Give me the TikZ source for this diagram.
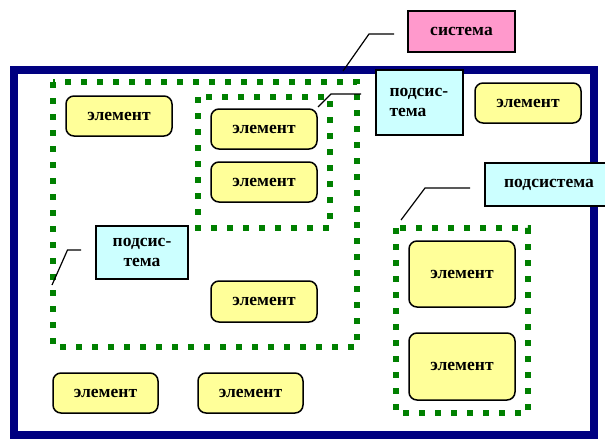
\documentclass[tikz,border=0pt]{standalone}
\usepackage{fontspec}
\setmainfont{Liberation Serif}
\definecolor{navyc}{HTML}{000080}
\definecolor{greenc}{HTML}{008000}
\definecolor{yellc}{HTML}{FFFF99}
\definecolor{cyanc}{HTML}{CCFFFF}
\definecolor{pinkc}{HTML}{FF99CC}
\tikzset{
  elem/.style={draw=black, line width=1.5pt, fill=yellc, rounded corners=8pt, inner sep=0pt,
    font=\fontsize{17.5}{20}\selectfont\bfseries},
  lbl/.style={draw=black, line width=1.5pt, fill=cyanc, inner sep=0pt,
    font=\fontsize{17.5}{20}\selectfont\bfseries},
  sub/.style={draw=greenc, line width=6.5pt, dash pattern=on 6pt off 10pt},
  frame/.style={draw=navyc, line width=8pt},
  callout/.style={draw=black, line width=1.2pt}
}
\begin{document}
\begin{tikzpicture}[x=1pt,y=-1pt]
\useasboundingbox (0,0) rectangle (605,439);
% frame
\draw[frame] (13.5,70) rectangle (594,435);
% subsystems
\draw[sub] (53,82) rectangle (357,347);
\draw[sub] (198,97) rectangle (330,228);
\draw[sub] (396,228) rectangle (528,413);
% elements
\node[elem, minimum width=106pt, minimum height=40pt] (e1) at (119,116) {элемент};
\node[elem, minimum width=106pt, minimum height=40pt] (e2) at (264,129) {элемент};
\node[elem, minimum width=106pt, minimum height=40pt] (e3) at (264,182) {элемент};
\node[elem, minimum width=106pt, minimum height=40pt] (e4) at (528,103) {элемент};
\node[elem, minimum width=106pt, minimum height=41pt] (e5) at (264,301.5) {элемент};
\node[elem, minimum width=106pt, minimum height=66pt] (e6) at (462,274) {элемент};
\node[elem, minimum width=106pt, minimum height=67pt] (e7) at (462,366.5) {элемент};
\node[elem, minimum width=105pt, minimum height=40pt] (e8) at (105.5,393) {элемент};
\node[elem, minimum width=105pt, minimum height=40pt] (e9) at (250.5,393) {элемент};
% labels
\node[lbl, fill=pinkc, minimum width=107pt, minimum height=41pt] (sys) at (461.5,31.5) {система};
\node[lbl, minimum width=87pt, minimum height=65pt, align=left, text width=60pt, inner xsep=13.5pt] (ps1) at (419.5,102.5) {подсис-\\тема};
\node[lbl, minimum width=128pt, minimum height=43pt] (ps2) at (549,184.5) {подсистема};
\node[lbl, minimum width=92pt, minimum height=53pt, align=center] (ps3) at (142,252.5) {подсис-\\тема};
% callouts
\coordinate (c1a) at (343,71); \coordinate (c1b) at (369,34); \coordinate (c1c) at (394,34);
\coordinate (c2a) at (318,107); \coordinate (c2b) at (331,94); \coordinate (c2c) at (361,94);
\coordinate (c3a) at (401,220); \coordinate (c3b) at (425,188); \coordinate (c3c) at (470,188);
\coordinate (c4a) at (52,285); \coordinate (c4b) at (67.5,250); \coordinate (c4c) at (81,250);
\draw[callout] (c1a) -- (c1b) -- (c1c);
\draw[callout] (c2a) -- (c2b) -- (c2c);
\draw[callout] (c3a) -- (c3b) -- (c3c);
\draw[callout] (c4a) -- (c4b) -- (c4c);
\end{tikzpicture}
\end{document}
